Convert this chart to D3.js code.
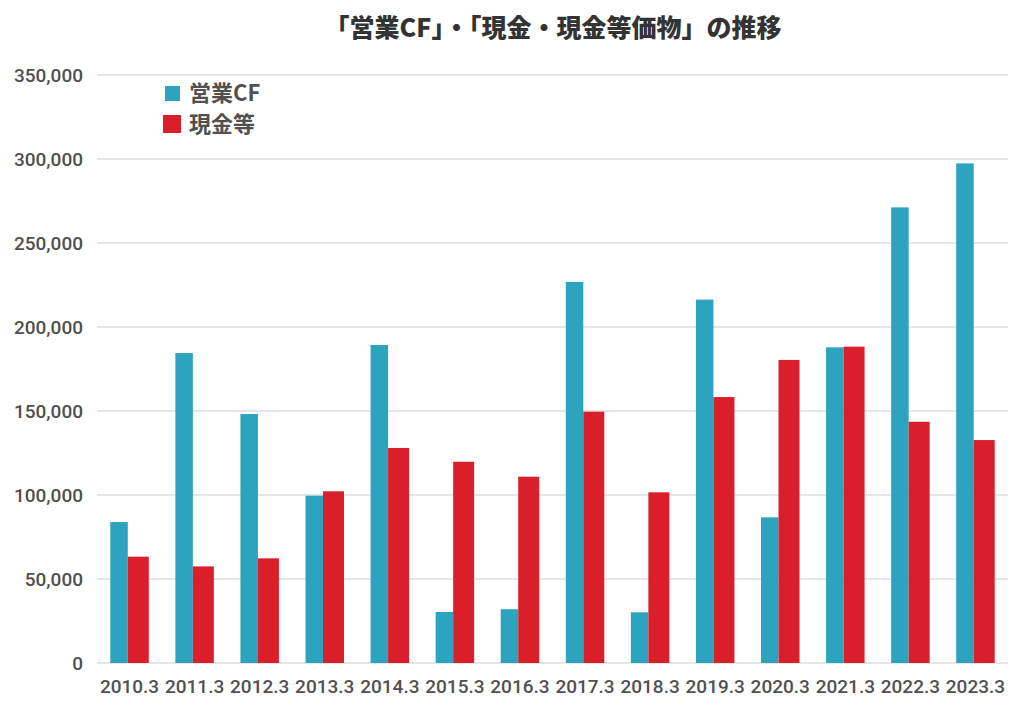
<!DOCTYPE html>
<html><head><meta charset="utf-8">
<script src="https://cdn.jsdelivr.net/npm/d3@7"></script>
<style>body{margin:0;background:#fff}svg{display:block}</style>
</head><body>
<svg id="c" width="1024" height="709"></svg>
<script>
const categories = ["2010.3","2011.3","2012.3","2013.3","2014.3","2015.3","2016.3","2017.3","2018.3","2019.3","2020.3","2021.3","2022.3","2023.3"];
const opCF = [83900,184500,148200,99600,189300,30400,32000,226800,30200,216300,86700,187900,271200,297400];
const cash = [63300,57500,62300,102200,128000,119800,110900,149600,101600,158300,180400,188300,143600,132700];
const yTicks = [0,50000,100000,150000,200000,250000,300000,350000];
const seriesNames = ["営業CF","現金等"];
const title = "「営業CF」・「現金・現金等価物」の推移";

(function(){
const svg = d3.select("#c");
const mLeft = 97, mRight = 1008, mTop = 75, mBottom = 663;
const x = d3.scaleBand().domain(categories).range([mLeft, mRight]).padding(0);
const y = d3.scaleLinear().domain([0, 350000]).range([mBottom, mTop]);
const blue = "#2ca3bf", red = "#db1f2a";
const font = "Roboto, 'Noto Sans CJK JP', sans-serif";
const txt = "#505050";

// y axis labels
const yAxis = d3.axisLeft(y).tickValues(yTicks).tickSize(0).tickPadding(14)
  .tickFormat(d => d3.format(",")(d));
const ga = svg.append("g").attr("transform", `translate(${mLeft},0)`).call(yAxis);
ga.select(".domain").remove();
ga.selectAll("text").attr("font-family", font).attr("font-size", 19).attr("font-weight", 500)
  .attr("fill", txt).attr("x", -14);
// grid
svg.append("g").selectAll("line").data(yTicks).join("line")
  .attr("x1", mLeft).attr("x2", mRight).attr("y1", d => y(d)).attr("y2", d => y(d))
  .attr("stroke", "#dedede").attr("stroke-width", 1.5);

// bars
const bw1 = 17.5, bw2 = 21;
const off = (x.bandwidth() - bw1 - bw2) / 2;
svg.append("g").selectAll("rect").data(categories).join("rect")
  .attr("x", d => x(d) + off).attr("width", bw1)
  .attr("y", (d,i) => y(opCF[i])).attr("height", (d,i) => mBottom - y(opCF[i]))
  .attr("fill", blue);
svg.append("g").selectAll("rect").data(categories).join("rect")
  .attr("x", d => x(d) + off + bw1).attr("width", bw2)
  .attr("y", (d,i) => y(cash[i])).attr("height", (d,i) => mBottom - y(cash[i]))
  .attr("fill", red);

// x labels
const xAxis = d3.axisBottom(x).tickSize(0).tickPadding(0);
const gx = svg.append("g").attr("transform", `translate(0,${mBottom})`).call(xAxis);
gx.select(".domain").remove();
gx.selectAll("text").attr("font-family", font).attr("font-size", 19).attr("font-weight", 500)
  .attr("fill", txt).attr("dy", null).attr("y", 30);

// title
svg.append("text").attr("x", 553).attr("y", 37).attr("text-anchor", "middle")
  .attr("font-family", "'Noto Sans CJK JP', sans-serif").attr("font-weight", 900)
  .attr("font-size", 25).attr("fill", "#333").text(title);

// legend
const lg = svg.append("g");
lg.append("rect").attr("x", 165).attr("y", 86).attr("width", 15).attr("height", 15).attr("fill", blue);
lg.append("rect").attr("x", 163).attr("y", 115).attr("width", 18).attr("height", 18).attr("fill", red);
lg.selectAll("text").data(seriesNames).join("text")
  .attr("x", 189).attr("y", (d,i) => 101 + i*31)
  .attr("font-family", "'Noto Sans CJK JP', sans-serif").attr("font-weight", "bold")
  .attr("font-size", 22).attr("fill", txt).text(d => d);
})();
</script>
</body></html>
